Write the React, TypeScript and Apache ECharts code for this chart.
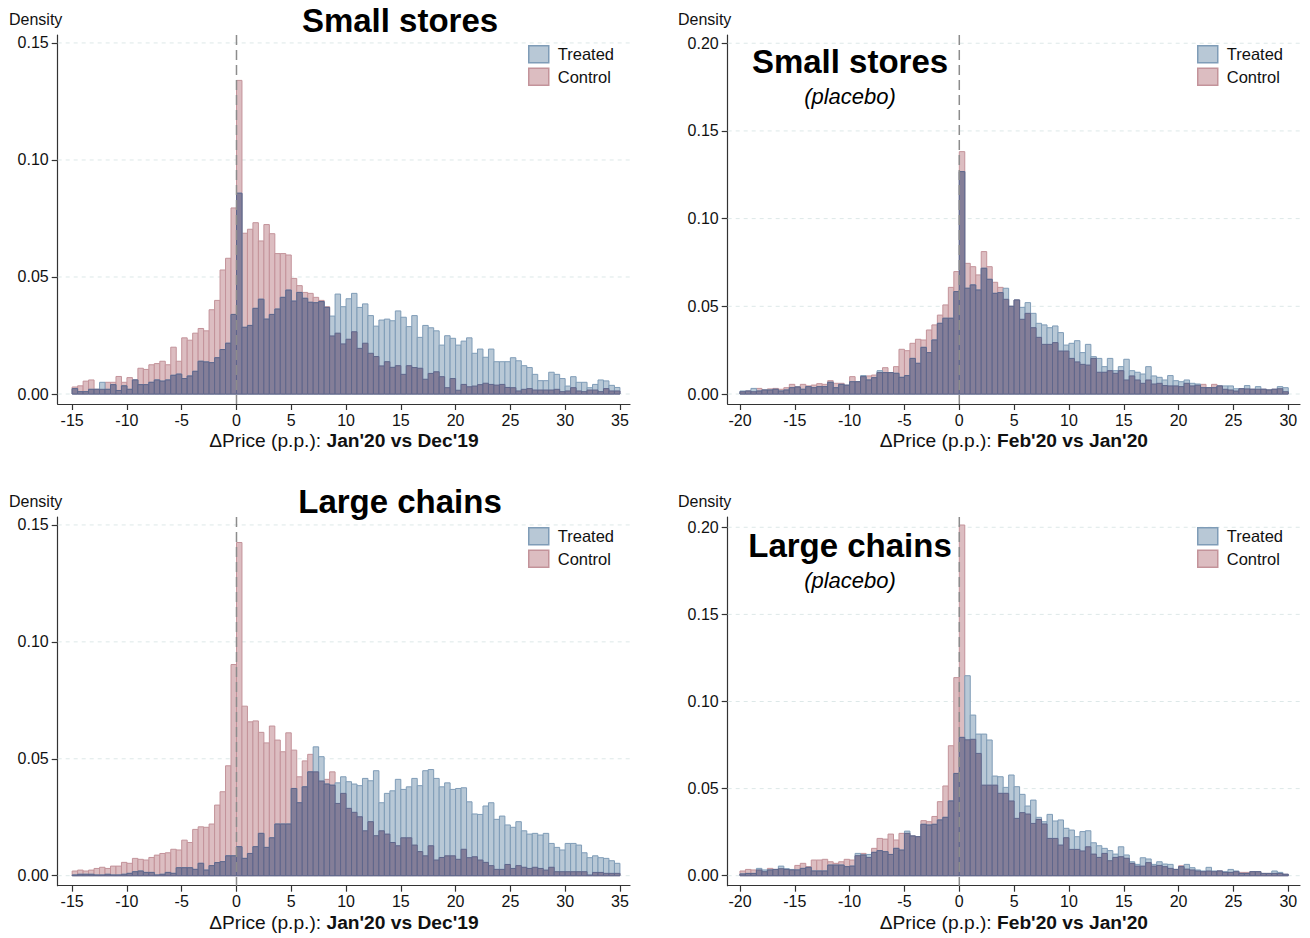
import React, { useEffect, useRef } from 'react';
import * as echarts from 'echarts';

// ---------- data ----------
const BIN_WIDTH = 0.5;
const LEFT_BIN_START = -15;
const RIGHT_BIN_START = -20;

const X_TICKS_LEFT = [-15, -10, -5, 0, 5, 10, 15, 20, 25, 30, 35];
const X_TICKS_RIGHT = [-20, -15, -10, -5, 0, 5, 10, 15, 20, 25, 30];
const Y_TICKS_LEFT = [0, 0.05, 0.1, 0.15];
const Y_TICKS_RIGHT = [0, 0.05, 0.1, 0.15, 0.2];

const SERIES_NAMES = ['Treated', 'Control'];
const PANEL_TITLES = ['Small stores', 'Small stores', 'Large chains', 'Large chains'];
const PANEL_SUBTITLES = ['', '(placebo)', '', '(placebo)'];
const COMPARISONS = ["Jan'20 vs Dec'19", "Feb'20 vs Jan'20", "Jan'20 vs Dec'19", "Feb'20 vs Jan'20"];
const Y_NAME = 'Density';

// Small stores, Jan'20 vs Dec'19 (bins from -15, width 0.5)
const SMALL_CONTROL = [
  0.003, 0.0035, 0.0055, 0.006, 0.002, 0.002, 0.005, 0.005, 0.0075, 0.005,
  0.007, 0.006, 0.011, 0.0105, 0.0125, 0.013, 0.014, 0.0125, 0.020, 0.014,
  0.024, 0.023, 0.026, 0.028, 0.027, 0.036, 0.040, 0.053, 0.058, 0.0795,
  0.134, 0.0687, 0.0704, 0.0732, 0.0654, 0.0724, 0.0685, 0.060, 0.060, 0.0594,
  0.0494, 0.0463, 0.0434, 0.043, 0.0413, 0.040, 0.0373, 0.0248, 0.026, 0.0214,
  0.0234, 0.0266, 0.0195, 0.0217, 0.0174, 0.016, 0.012, 0.0138, 0.0114, 0.0121,
  0.0084, 0.0121, 0.0113, 0.011, 0.0063, 0.0088, 0.0095, 0.0074, 0.0027, 0.0066,
  0.0016, 0.0041, 0.0031, 0.0034, 0.004, 0.0046, 0.0041, 0.0038, 0.0041, 0.0028,
  0.0027, 0.0013, 0.002, 0.0023, 0.0017, 0.0017, 0.0017, 0.0017, 0.002, 0.001,
  0.0013, 0.0027, 0.0013, 0.001, 0.0017, 0.0017, 0.001, 0.0023, 0.0013, 0.0013,
];
const SMALL_TREATED = [
  0.0023, 0.001, 0.001, 0.002, 0.002, 0.005, 0.002, 0.004, 0.0015, 0.0035,
  0.002, 0.006, 0.004, 0.004, 0.005, 0.006, 0.0055, 0.006, 0.008, 0.0085,
  0.0066, 0.0077, 0.0097, 0.014, 0.0137, 0.0134, 0.0155, 0.019, 0.0217, 0.034,
  0.0858, 0.0285, 0.0293, 0.0366, 0.0405, 0.032, 0.034, 0.0363, 0.0413, 0.0444,
  0.0397, 0.0434, 0.0409, 0.0392, 0.039, 0.0395, 0.037, 0.0333, 0.0427, 0.0373,
  0.0407, 0.043, 0.037, 0.0385, 0.0335, 0.029, 0.0316, 0.032, 0.0313, 0.0355,
  0.0328, 0.0288, 0.0335, 0.0242, 0.0293, 0.0283, 0.027, 0.0209, 0.0249, 0.0238,
  0.0209, 0.0226, 0.024, 0.0174, 0.0192, 0.0157, 0.0192, 0.0138, 0.0138, 0.0138,
  0.0155, 0.0142, 0.0121, 0.0113, 0.0084, 0.0057, 0.0057, 0.0093, 0.0084, 0.0066,
  0.0034, 0.0074, 0.005, 0.005, 0.0027, 0.0041, 0.006, 0.0056, 0.0037, 0.0028,
];

// Small stores placebo, Feb'20 vs Jan'20 (bins from -20)
const SMALL_PLACEBO_CONTROL = [
  0.0013, 0.0017, 0.0013, 0.0032, 0.0023, 0.0029, 0.0032, 0.0027, 0.0036, 0.0055,
  0.0042, 0.0055, 0.0046, 0.0051, 0.0059, 0.0055, 0.0076, 0.0061, 0.0061, 0.005,
  0.0099, 0.007, 0.0099, 0.0103, 0.0108, 0.0122, 0.015, 0.0122, 0.0156, 0.0255,
  0.0247, 0.0289, 0.0312, 0.0308, 0.0365, 0.0394, 0.045, 0.0508, 0.0608, 0.0698,
  0.1382, 0.0745, 0.0726, 0.0679, 0.0812, 0.0726, 0.0637, 0.0608, 0.054, 0.050,
  0.0536, 0.0426, 0.046, 0.0378, 0.0323, 0.0283, 0.0283, 0.0293, 0.0245, 0.0245,
  0.0203, 0.0183, 0.0169, 0.0165, 0.0203, 0.0124, 0.0124, 0.0133, 0.0118, 0.0133,
  0.008, 0.0103, 0.008, 0.0061, 0.008, 0.0057, 0.0061, 0.0048, 0.0046, 0.0046,
  0.0042, 0.0061, 0.0046, 0.005, 0.0055, 0.0036, 0.0055, 0.0046, 0.0027, 0.0023,
  0.0017, 0.003, 0.0029, 0.0027, 0.0027, 0.0027, 0.0023, 0.0027, 0.003, 0.0013,
];
const SMALL_PLACEBO_TREATED = [
  0.0017, 0.0017, 0.0032, 0.0017, 0.0023, 0.0023, 0.0027, 0.0017, 0.0023, 0.0036,
  0.004, 0.0027, 0.0042, 0.0036, 0.0042, 0.0042, 0.0067, 0.0036, 0.0055, 0.005,
  0.007, 0.007, 0.0105, 0.008, 0.0093, 0.0133, 0.0122, 0.0122, 0.0118, 0.0095,
  0.0105, 0.0203, 0.0175, 0.0266, 0.0236, 0.0308, 0.0403, 0.0432, 0.0432, 0.0584,
  0.1268, 0.0603, 0.0622, 0.0593, 0.0717, 0.0654, 0.0574, 0.0578, 0.0603, 0.050,
  0.0536, 0.0494, 0.0521, 0.046, 0.0403, 0.0394, 0.0378, 0.0388, 0.035, 0.0279,
  0.0289, 0.0304, 0.0236, 0.0283, 0.0213, 0.0203, 0.0156, 0.0203, 0.0133, 0.0156,
  0.0198, 0.0133, 0.0124, 0.0114, 0.0156, 0.0103, 0.0095, 0.008, 0.0105, 0.0076,
  0.007, 0.008, 0.0061, 0.0057, 0.0036, 0.0036, 0.0036, 0.0046, 0.0046, 0.0046,
  0.003, 0.003, 0.0048, 0.0027, 0.0042, 0.0027, 0.0023, 0.0027, 0.0042, 0.0036,
];

// Large chains, Jan'20 vs Dec'19 (bins from -15)
const LARGE_CONTROL = [
  0.002, 0.0024, 0.002, 0.0024, 0.0031, 0.0036, 0.0031, 0.0041, 0.0041, 0.0057,
  0.0053, 0.0074, 0.007, 0.0067, 0.0078, 0.0088, 0.0095, 0.0098, 0.0113, 0.011,
  0.0152, 0.0142, 0.0198, 0.0209, 0.0207, 0.0221, 0.0302, 0.0359, 0.047, 0.0903,
  0.1425, 0.0725, 0.0658, 0.0662, 0.0613, 0.0568, 0.064, 0.058, 0.053, 0.0611,
  0.0537, 0.0423, 0.0491, 0.0519, 0.0444, 0.0405, 0.0412, 0.0444, 0.0309, 0.0352,
  0.0288, 0.0271, 0.0252, 0.0192, 0.0231, 0.0171, 0.0192, 0.0178, 0.0142, 0.0128,
  0.0162, 0.0162, 0.0131, 0.0103, 0.0085, 0.0128, 0.0067, 0.0078, 0.0085, 0.0085,
  0.007, 0.0113, 0.0077, 0.0081, 0.0067, 0.0057, 0.0043, 0.0027, 0.0027, 0.0048,
  0.0031, 0.0043, 0.0036, 0.0031, 0.0036, 0.0031, 0.0024, 0.0036, 0.0017, 0.0017,
  0.0017, 0.0017, 0.0017, 0.0017, 0.0003, 0.0014, 0.0014, 0.001, 0.001, 0.001,
];
const LARGE_TREATED = [
  0.0003, 0.0006, 0.0006, 0.0006, 0.0003, 0.0003, 0.0006, 0.0003, 0.0003, 0.0006,
  0.001, 0.0017, 0.002, 0.0014, 0.0014, 0.0003, 0.0006, 0.0014, 0.001, 0.0034,
  0.0034, 0.0034, 0.0027, 0.0053, 0.0024, 0.0043, 0.0056, 0.006, 0.0085, 0.0085,
  0.0124, 0.0074, 0.0095, 0.0124, 0.0181, 0.0121, 0.0162, 0.0221, 0.0221, 0.0221,
  0.0373, 0.0312, 0.038, 0.0444, 0.0551, 0.0509, 0.0392, 0.0387, 0.0397, 0.0423,
  0.0402, 0.0392, 0.0385, 0.0416, 0.0406, 0.0449, 0.0312, 0.0352, 0.0363, 0.0412,
  0.0369, 0.038, 0.0416, 0.0385, 0.0449, 0.0454, 0.0416, 0.038, 0.0397, 0.0369,
  0.0373, 0.0376, 0.0316, 0.0264, 0.0262, 0.0298, 0.0312, 0.0241, 0.0255, 0.0217,
  0.0207, 0.0231, 0.0192, 0.0178, 0.0181, 0.0174, 0.0181, 0.0138, 0.0121, 0.011,
  0.0138, 0.0138, 0.0131, 0.0098, 0.0077, 0.0085, 0.0077, 0.0074, 0.0064, 0.0053,
];

// Large chains placebo, Feb'20 vs Jan'20 (bins from -20)
const LARGE_PLACEBO_CONTROL = [
  0.0027, 0.0036, 0.0033, 0.0033, 0.0023, 0.0042, 0.0036, 0.004, 0.0036, 0.0033,
  0.0059, 0.0071, 0.0052, 0.009, 0.009, 0.0094, 0.008, 0.0071, 0.008, 0.0094,
  0.009, 0.0115, 0.0128, 0.0105, 0.0157, 0.0214, 0.021, 0.0239, 0.0205, 0.0243,
  0.0243, 0.0228, 0.0224, 0.0316, 0.031, 0.034, 0.0425, 0.0515, 0.0746, 0.1137,
  0.2013, 0.078, 0.0783, 0.0702, 0.052, 0.052, 0.052, 0.0473, 0.0473, 0.0429,
  0.0329, 0.0362, 0.0354, 0.03, 0.0323, 0.0297, 0.0214, 0.0214, 0.0176, 0.0218,
  0.0151, 0.0151, 0.0142, 0.0166, 0.0124, 0.0105, 0.0128, 0.0086, 0.0105, 0.0109,
  0.01, 0.0071, 0.0055, 0.0055, 0.0075, 0.0055, 0.0059, 0.0052, 0.0042, 0.0036,
  0.0057, 0.0038, 0.0033, 0.0027, 0.0023, 0.0027, 0.0023, 0.0027, 0.0019, 0.0019,
  0.0023, 0.0019, 0.0019, 0.0023, 0.0023, 0.0013, 0.0013, 0.0013, 0.0013, 0.0008,
];
const LARGE_PLACEBO_TREATED = [
  0.001, 0.0013, 0.0013, 0.0042, 0.0033, 0.0033, 0.0036, 0.0055, 0.004, 0.0036,
  0.0033, 0.0042, 0.0048, 0.0027, 0.0027, 0.0027, 0.0061, 0.0061, 0.0061, 0.0052,
  0.0055, 0.0128, 0.0119, 0.0122, 0.0134, 0.0144, 0.0138, 0.0122, 0.0157, 0.0147,
  0.0256, 0.0228, 0.0224, 0.0295, 0.0291, 0.0295, 0.032, 0.0335, 0.0429, 0.0587,
  0.0794, 0.1148, 0.0922, 0.0813, 0.0813, 0.0779, 0.0572, 0.0568, 0.0507, 0.0578,
  0.0511, 0.0467, 0.04, 0.0434, 0.0335, 0.031, 0.0352, 0.0314, 0.032, 0.0272,
  0.0262, 0.0224, 0.0253, 0.0258, 0.0189, 0.0172, 0.0157, 0.0144, 0.0124, 0.0166,
  0.0119, 0.008, 0.0065, 0.0103, 0.0096, 0.0065, 0.008, 0.0067, 0.0065, 0.0036,
  0.0052, 0.0065, 0.0046, 0.0033, 0.0027, 0.0048, 0.0027, 0.0027, 0.0023, 0.0036,
  0.0027, 0.0013, 0.0013, 0.0023, 0.0023, 0.0013, 0.0013, 0.0027, 0.0019, 0.0008,
];

// ---------- styling / layout ----------
const FONT = "'Liberation Sans', Arial, Helvetica, sans-serif";
const INK = '#111111';
const AXIS_COLOR = '#333333';
const COLORS = {
  treatedFill: '#b8c8d6',
  treatedStroke: '#7f9cb7',
  controlFill: '#dcbdc1',
  controlStroke: '#c3939a',
  overlapFill: '#847e98',
  overlapStroke: '#5f668b',
  grid: '#dde8e8',
  zero: '#8c8c8c',
};

const PANELS = [
  { treated: SMALL_TREATED, control: SMALL_CONTROL, start: LEFT_BIN_START, xTicks: X_TICKS_LEFT, yTicks: Y_TICKS_LEFT },
  { treated: SMALL_PLACEBO_TREATED, control: SMALL_PLACEBO_CONTROL, start: RIGHT_BIN_START, xTicks: X_TICKS_RIGHT, yTicks: Y_TICKS_RIGHT },
  { treated: LARGE_TREATED, control: LARGE_CONTROL, start: LEFT_BIN_START, xTicks: X_TICKS_LEFT, yTicks: Y_TICKS_LEFT },
  { treated: LARGE_PLACEBO_TREATED, control: LARGE_PLACEBO_CONTROL, start: RIGHT_BIN_START, xTicks: X_TICKS_RIGHT, yTicks: Y_TICKS_RIGHT },
];

const LAYOUT = [
  { left: 57.7, top: 35, width: 572.3, height: 369, xMin: -16.32, xMax: 35.92, yMin: -0.00427, yMax: 0.1534,
    titleX: 400, titleTop: 4, legendLeft: 528, legendTop: 45, densityX: 9, densityY: 11 },
  { left: 727.7, top: 35, width: 572.3, height: 369, xMin: -21.12, xMax: 31.07, yMin: -0.0057, yMax: 0.2047,
    titleX: 850, titleTop: 45, legendLeft: 1197, legendTop: 45, densityX: 678, densityY: 11 },
  { left: 57.7, top: 517, width: 572.3, height: 368.7, xMin: -16.32, xMax: 35.92, yMin: -0.00428, yMax: 0.1534,
    titleX: 400, titleTop: 485, legendLeft: 528, legendTop: 527, densityX: 9, densityY: 493 },
  { left: 727.7, top: 517, width: 572.3, height: 368.7, xMin: -21.12, xMax: 31.07, yMin: -0.00574, yMax: 0.2059,
    titleX: 850, titleTop: 529, legendLeft: 1197, legendTop: 527, densityX: 678, densityY: 493 },
];

const toBins = (start: number, values: number[]) =>
  values.map((v, i) => [start + i * BIN_WIDTH, start + (i + 1) * BIN_WIDTH, v]);

const barRenderer = (fill: string, stroke: string) => (params: any, api: any) => {
  const a = api.coord([api.value(0), api.value(2)]);
  const b = api.coord([api.value(1), 0]);
  return {
    type: 'rect',
    shape: { x: a[0], y: a[1], width: b[0] - a[0], height: b[1] - a[1] },
    style: { fill, stroke, lineWidth: 1 },
  };
};

const gridLineRenderer = (params: any, api: any) => {
  const cs = params.coordSys;
  const y = api.coord([0, api.value(0)])[1];
  return {
    type: 'line',
    shape: { x1: cs.x, y1: y, x2: cs.x + cs.width, y2: y },
    style: { stroke: COLORS.grid, lineWidth: 1, lineDash: [4, 4] },
  };
};

const zeroLineRenderer = (params: any, api: any) => {
  const cs = params.coordSys;
  const x = api.coord([api.value(0), 0])[0];
  return {
    type: 'line',
    shape: { x1: x, y1: cs.y, x2: x, y2: cs.y + cs.height },
    style: { stroke: COLORS.zero, lineWidth: 1.5, lineDash: [10, 5] },
  };
};

function buildOption() {
  const grid: any[] = [];
  const xAxis: any[] = [];
  const yAxis: any[] = [];
  const series: any[] = [];
  const legend: any[] = [];
  const title: any[] = [];
  const graphic: any[] = [];

  PANELS.forEach((P, k) => {
    const L = LAYOUT[k];
    grid.push({ left: L.left, top: L.top, width: L.width, height: L.height, containLabel: false });
    xAxis.push({
      type: 'value', gridIndex: k, min: L.xMin, max: L.xMax,
      axisLine: { show: true, onZero: false, lineStyle: { color: AXIS_COLOR, width: 1.2 } },
      axisTick: { show: true, length: 6, customValues: P.xTicks, lineStyle: { color: AXIS_COLOR, width: 1.2 } },
      axisLabel: { customValues: P.xTicks, fontSize: 16, color: INK, margin: 8, fontFamily: FONT },
      splitLine: { show: false },
      name: `{n|\u0394Price (p.p.): }{b|${COMPARISONS[k]}}`,
      nameLocation: 'middle', nameGap: 27,
      nameTextStyle: {
        rich: {
          n: { fontSize: 19.2, color: INK, fontFamily: FONT },
          b: { fontSize: 19.2, color: INK, fontWeight: 'bold', fontFamily: FONT },
        },
      },
    });
    yAxis.push({
      type: 'value', gridIndex: k, min: L.yMin, max: L.yMax,
      axisLine: { show: true, onZero: false, lineStyle: { color: AXIS_COLOR, width: 1.2 } },
      axisTick: { show: true, length: 6, customValues: P.yTicks, lineStyle: { color: AXIS_COLOR, width: 1.2 } },
      axisLabel: { customValues: P.yTicks, fontSize: 16, color: INK, margin: 9, fontFamily: FONT,
        formatter: (v: number) => v.toFixed(2) },
      splitLine: { show: false },
    });

    const overlap = P.control.map((c, i) => Math.min(c, P.treated[i]));
    series.push({
      type: 'custom', name: 'gridlines-' + k, xAxisIndex: k, yAxisIndex: k, z: 1, silent: true,
      renderItem: gridLineRenderer, data: P.yTicks.map((v) => [v]), encode: { y: 0 },
    });
    series.push({
      type: 'custom', name: SERIES_NAMES[1], xAxisIndex: k, yAxisIndex: k, z: 2, silent: true, clip: true,
      itemStyle: { color: COLORS.controlFill, borderColor: COLORS.controlStroke },
      renderItem: barRenderer(COLORS.controlFill, COLORS.controlStroke),
      data: toBins(P.start, P.control), encode: { x: [0, 1], y: 2 },
    });
    series.push({
      type: 'custom', name: SERIES_NAMES[0], xAxisIndex: k, yAxisIndex: k, z: 3, silent: true, clip: true,
      itemStyle: { color: COLORS.treatedFill, borderColor: COLORS.treatedStroke },
      renderItem: barRenderer(COLORS.treatedFill, COLORS.treatedStroke),
      data: toBins(P.start, P.treated), encode: { x: [0, 1], y: 2 },
    });
    series.push({
      type: 'custom', name: 'overlap-' + k, xAxisIndex: k, yAxisIndex: k, z: 4, silent: true, clip: true,
      renderItem: barRenderer(COLORS.overlapFill, COLORS.overlapStroke),
      data: toBins(P.start, overlap), encode: { x: [0, 1], y: 2 },
    });
    series.push({
      type: 'custom', name: 'zero-' + k, xAxisIndex: k, yAxisIndex: k, z: 10, silent: true,
      renderItem: zeroLineRenderer, data: [[0]], encode: { x: 0 },
    });

    legend.push({
      orient: 'vertical', left: L.legendLeft, top: L.legendTop, padding: 0, itemGap: 4,
      itemWidth: 20, itemHeight: 17, icon: 'rect', selectedMode: false,
      textStyle: { fontSize: 16.5, color: INK, fontFamily: FONT, padding: [0, 0, 0, 4] },
      data: [
        { name: SERIES_NAMES[0], itemStyle: { color: COLORS.treatedFill, borderColor: COLORS.treatedStroke, borderWidth: 1.5 } },
        { name: SERIES_NAMES[1], itemStyle: { color: COLORS.controlFill, borderColor: COLORS.controlStroke, borderWidth: 1.5 } },
      ],
    });

    title.push({
      text: PANEL_TITLES[k], subtext: PANEL_SUBTITLES[k], left: L.titleX, top: L.titleTop,
      textAlign: 'center', padding: 0, itemGap: 7,
      textStyle: { fontSize: 33, fontWeight: 'bold', color: '#000', fontFamily: FONT },
      subtextStyle: { fontSize: 22, fontStyle: 'italic', color: '#000', fontFamily: FONT },
    });

    graphic.push({
      type: 'text', left: L.densityX, top: L.densityY, silent: true,
      style: { text: Y_NAME, fontSize: 16, fill: INK, fontFamily: FONT },
    });
  });

  return {
    animation: false,
    backgroundColor: '#ffffff',
    textStyle: { fontFamily: FONT },
    grid, xAxis, yAxis, series, legend, title, graphic,
  };
}

export default function App() {
  const ref = useRef<HTMLDivElement>(null);
  useEffect(() => {
    if (!ref.current) return;
    const chart = echarts.init(ref.current, null, { renderer: 'svg' });
    chart.setOption(buildOption() as any);
    return () => chart.dispose();
  }, []);
  return (
    <div
      ref={ref}
      style={{ position: 'fixed', left: 0, top: 0, width: 1310, height: 938, background: '#fff' }}
    />
  );
}
